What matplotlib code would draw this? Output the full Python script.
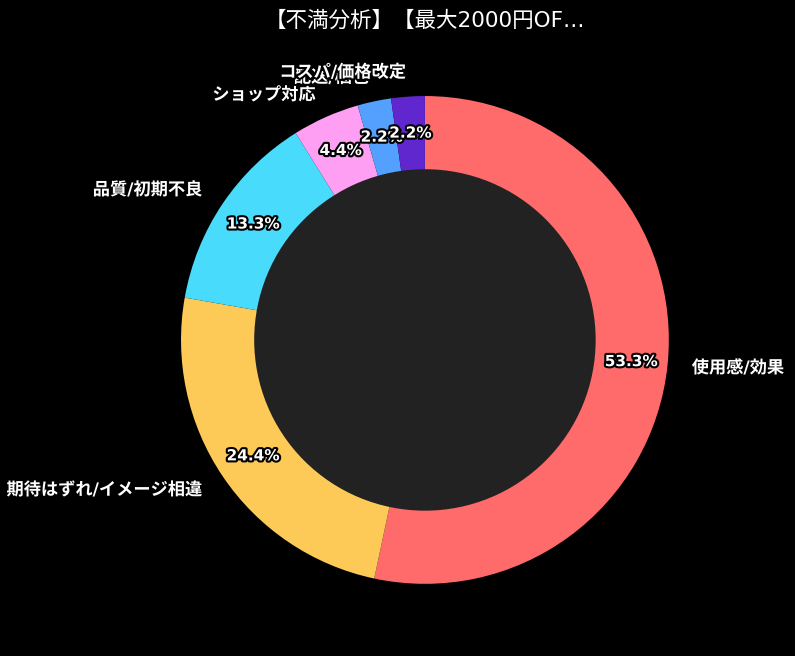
import matplotlib
matplotlib.use("Agg")
import matplotlib.pyplot as plt
import matplotlib.patheffects as pe

plt.rcParams['font.family'] = ['DejaVu Sans', 'Noto Sans CJK JP']

TITLE = "【不満分析】【最大2000円OF…"
labels = ["使用感/効果", "期待はずれ/イメージ相違", "品質/初期不良", "ショップ対応", "配送/梱包", "コスパ/価格改定"]
counts = [24, 11, 6, 2, 1, 1]
colors = ["#FF6B6B", "#FECA57", "#48DBFB", "#FF9FF3", "#54A0FF", "#5F27CD"]

fig = plt.figure(figsize=(7.95, 6.56), dpi=100, facecolor="black")
ax = fig.add_axes([0.151, 0.0168, 0.767, 0.930])
ax.set_facecolor("black")

wedges, texts, autotexts = ax.pie(
    counts, labels=labels, colors=colors, autopct="%1.1f%%",
    startangle=90, counterclock=False, pctdistance=0.85,
    textprops={"color": "white", "fontsize": 12.4, "fontweight": "bold"},
)
# black outline so later labels hide the ones underneath, like the original
for t in texts:
    t.set_path_effects([pe.withStroke(linewidth=3, foreground="black")])
for t in autotexts:
    t.set_fontsize(11)
    t.set_path_effects([pe.withStroke(linewidth=3, foreground="black")])

ax.add_artist(plt.Circle((0, 0), 0.70, fc="#222222"))
ax.set_xlim(-1.25, 1.25)
ax.set_ylim(-1.25, 1.25)
ax.set_aspect("equal")

fig.text(0.535, 0.969, TITLE, color="white", fontsize=15.5, ha="center", va="center")

fig.savefig("out.png", dpi=100, facecolor="black")
